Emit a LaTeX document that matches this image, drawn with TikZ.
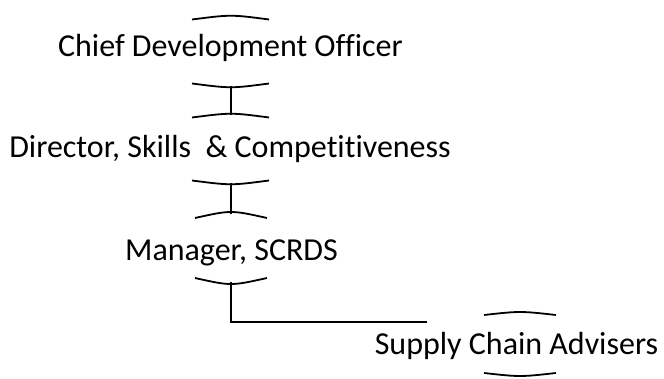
\documentclass[tikz,border=0pt]{standalone}
\usepackage{fontspec}
\setmainfont{Carlito}[Ligatures={NoCommon}]
\begin{document}
\begin{tikzpicture}[x=1pt,y=-1pt,
  lbl/.style={anchor=base,inner sep=0pt,font=\fontsize{32}{38}\selectfont},
  arcline/.style={line width=1.8pt},
  conn/.style={line width=1.8pt}]
\useasboundingbox (0,0) rectangle (664,379);
% labels
\node[lbl] (chief) at (230.5,57) {Chief Development Officer};
\node[lbl] (dir) at (230,158) {Director, Skills \ \& Competitiveness};
\node[lbl] (mgr) at (231.5,261) {Manager, SCRDS};
\node[lbl] (sca) at (516.5,355) {Supply Chain Advisers};
% arc midpoints
\coordinate (chiefT) at (231,17);
\coordinate (chiefB) at (231,86);
\coordinate (dirT) at (231,115);
\coordinate (dirB) at (231,183);
\coordinate (mgrT) at (231,214);
\coordinate (mgrB) at (231,282);
\coordinate (scaT) at (520,313);
\coordinate (scaB) at (520,375);
\coordinate (corner) at (231,322);
\coordinate (endp) at (427,322);
% arcs
\draw[arcline] (192,19.5) .. controls (231,14.5) .. (269,19.5);
\draw[arcline] (192,83.5) .. controls (231,88.5) .. (269,83.5);
\draw[arcline] (192,117.5) .. controls (231,112.5) .. (269,117.5);
\draw[arcline] (192,180.5) .. controls (231,185.5) .. (269,180.5);
\draw[arcline] (195,218) .. controls (231,210) .. (267,218);
\draw[arcline] (195,278) .. controls (231,286) .. (267,278);
\draw[arcline] (484,315) .. controls (520,311) .. (556,315);
\draw[arcline] (484,373) .. controls (520,377) .. (556,373);
% connectors
\draw[conn] (chiefB) -- (dirT);
\draw[conn] (dirB) -- (mgrT);
\draw[conn] (mgrB) -- (corner) -- (endp);
\end{tikzpicture}
\end{document}
